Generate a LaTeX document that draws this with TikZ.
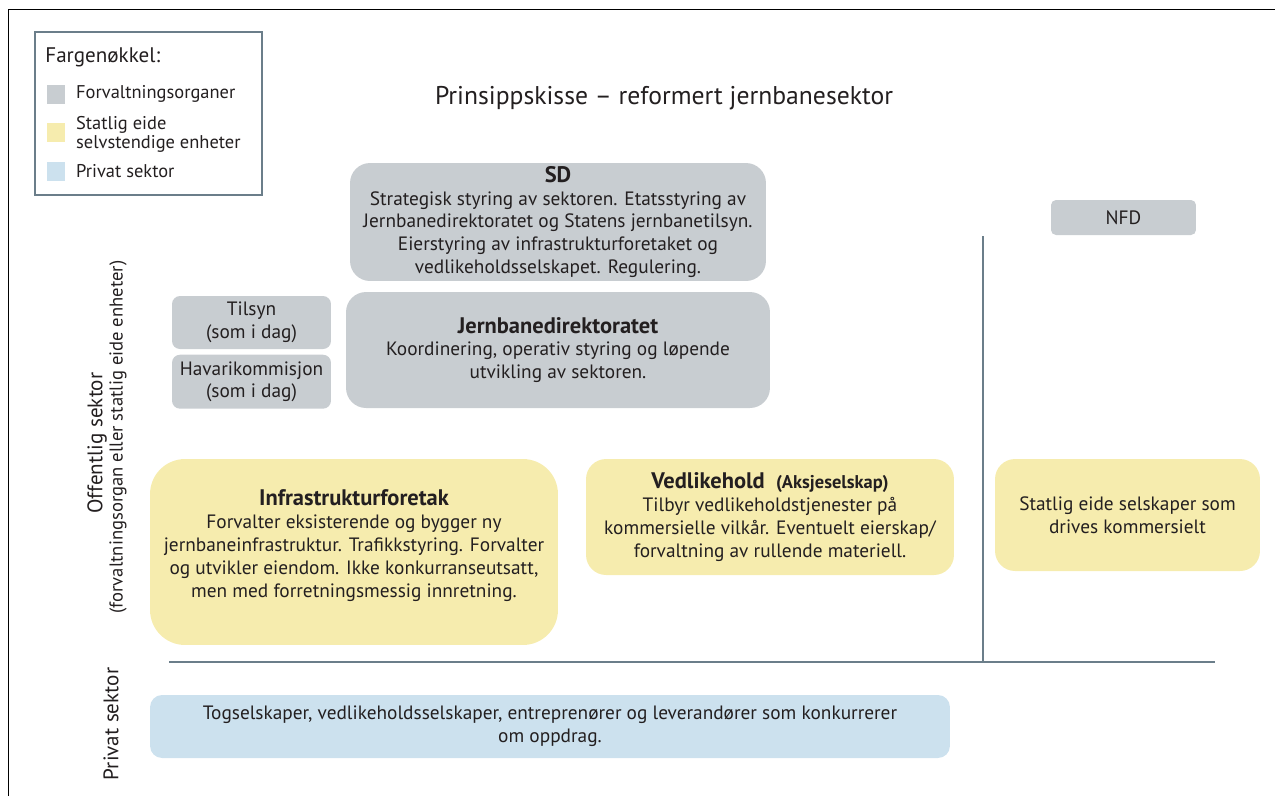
\documentclass[tikz,border=0pt]{standalone}
\usepackage{fontspec}
\setmainfont{PT Sans}
\usepackage{tikz}
\usetikzlibrary{positioning}
\definecolor{forvgray}{HTML}{C8CDD1}
\definecolor{statyellow}{HTML}{F6ECAE}
\definecolor{privblue}{HTML}{CCE1EE}
\definecolor{rulegray}{HTML}{6B7E8A}
\definecolor{textdark}{HTML}{231F20}
\newcommand{\boxfont}{\fontsize{11}{13}\selectfont}
\newcommand{\headfont}{\fontsize{12.8}{13}\selectfont\bfseries}
\tikzset{
  sector box/.style={align=center, inner sep=0pt, text=textdark, font=\boxfont},
  gray box/.style={sector box, fill=forvgray},
  yellow box/.style={sector box, fill=statyellow},
  blue box/.style={sector box, fill=privblue},
  swatch/.style={minimum size=0.38cm, inner sep=0pt},
  legend text/.style={anchor=west, align=left, inner sep=0pt, text=textdark, font=\fontsize{10.5}{10.4}\selectfont},
  side label/.style={rotate=90, inner sep=0pt, text=textdark},
  sector rule/.style={draw=rulegray, line width=1.1pt},
}

\begin{document}
\begin{tikzpicture}[x=0.02cm, y=-0.02cm]
        \useasboundingbox (0,0) rectangle (1275,796);
        \draw[line width=1.1pt] (8.5,796) -- (8.5,9.5) -- (1275,9.5);

        \node[draw=rulegray, line width=0.8pt, minimum width=4.54cm, minimum height=3.26cm] (KEY) at (148.5,113.5) {};
        \node[legend text, font=\fontsize{12}{13}\selectfont] (KT) at (45,57) {Fargenøkkel:};
        \node[swatch, fill=forvgray] (SG) at (56,94) {};
        \node[swatch, fill=statyellow] (SY) at (56,132) {};
        \node[swatch, fill=privblue] (SB) at (56,171) {};
        \node[legend text, right=0.2cm of SG] (LG) {Forvaltningsorganer};
        \node[legend text, right=0.2cm of SY, yshift=-0.05cm] (LY) {Statlig eide\\selvstendige enheter};
        \node[legend text, right=0.2cm of SB] (LB) {Privat sektor};

        \node[text=textdark, inner sep=0pt, font=\fontsize{14.6}{16}\selectfont] (TITLE) at (664,98) {Prinsippskisse – reformert jernbanesektor};

        \node[gray box, rounded corners=0.4cm, minimum width=8.32cm, minimum height=2.36cm] (SD) at (558,222)
            {{\headfont SD}\\Strategisk styring av sektoren. Etatsstyring av\\Jernbanedirektoratet og Statens jernbanetilsyn.\\Eierstyring av infrastrukturforetaket og\\vedlikeholdsselskapet. Regulering.};
        \node[gray box, rounded corners=0.16cm, minimum width=3.18cm, minimum height=1.06cm] (T) at (251.5,322.5)
            {Tilsyn\\(som i dag)};
        \node[gray box, rounded corners=0.16cm, minimum width=3.18cm, minimum height=1.08cm, below=0.1cm of T] (H)
            {Havarikommisjon\\(som i dag)};
        \node[gray box, rounded corners=0.4cm, minimum width=8.48cm, minimum height=2.32cm] (JD) at (558,350)
            {{\headfont Jernbanedirektoratet}\\Koordinering, operativ styring og løpende\\utvikling av sektoren.};
        \node[gray box, rounded corners=0.1cm, minimum width=2.9cm, minimum height=0.7cm] (NFD) at (1123.5,217.5) {NFD};

        \node[yellow box, rounded corners=0.7cm, minimum width=8.16cm, minimum height=3.72cm] (IF) at (354,552)
            {{\headfont Infrastrukturforetak}\\Forvalter eksisterende og bygger ny\\jernbaneinfrastruktur. Trafikkstyring. Forvalter\\og utvikler eiendom. Ikke konkurranseutsatt,\\men med forretningsmessig innretning.\\[-0.12cm]};
        \node[yellow box, rounded corners=0.4cm, minimum width=7.36cm, minimum height=2.32cm] (VH) at (770,517)
            {{\headfont Vedlikehold\ \ {\fontsize{10.5}{10}\selectfont(Aksjeselskap)}}\\Tilbyr vedlikeholdstjenester på\\kommersielle vilkår. Eventuelt eierskap/\\forvaltning av rullende materiell.};
        \node[yellow box, rounded corners=0.4cm, minimum width=5.3cm, minimum height=2.24cm] (SS) at (1127.5,515)
            {Statlig eide selskaper som\\drives kommersielt};

        \node[blue box, rounded corners=0.24cm, minimum width=16cm, minimum height=1.26cm] (PS) at (550,726.5)
            {Togselskaper, vedlikeholdsselskaper, entreprenører og leverandører som konkurrerer\\om oppdrag.};

        \coordinate (VT) at (983,236);
        \coordinate (VB) at (983,663);
        \coordinate (HL) at (169,662);
        \coordinate (HR) at (1215,662);
        \draw[sector rule] (VT) -- (VB);
        \draw[sector rule] (HL) -- (HR);

        \node[side label, font=\fontsize{12}{13}\selectfont] (OS) at (97,443) {Offentlig sektor};
        \node[side label, font=\fontsize{10.6}{11}\selectfont] (OSX) at (118,437) {(forvaltningsorgan eller statlig eide enheter)};
        \node[side label, font=\fontsize{12}{13}\selectfont] (PRIV) at (111,724) {Privat sektor};
    \end{tikzpicture}
\end{document}
